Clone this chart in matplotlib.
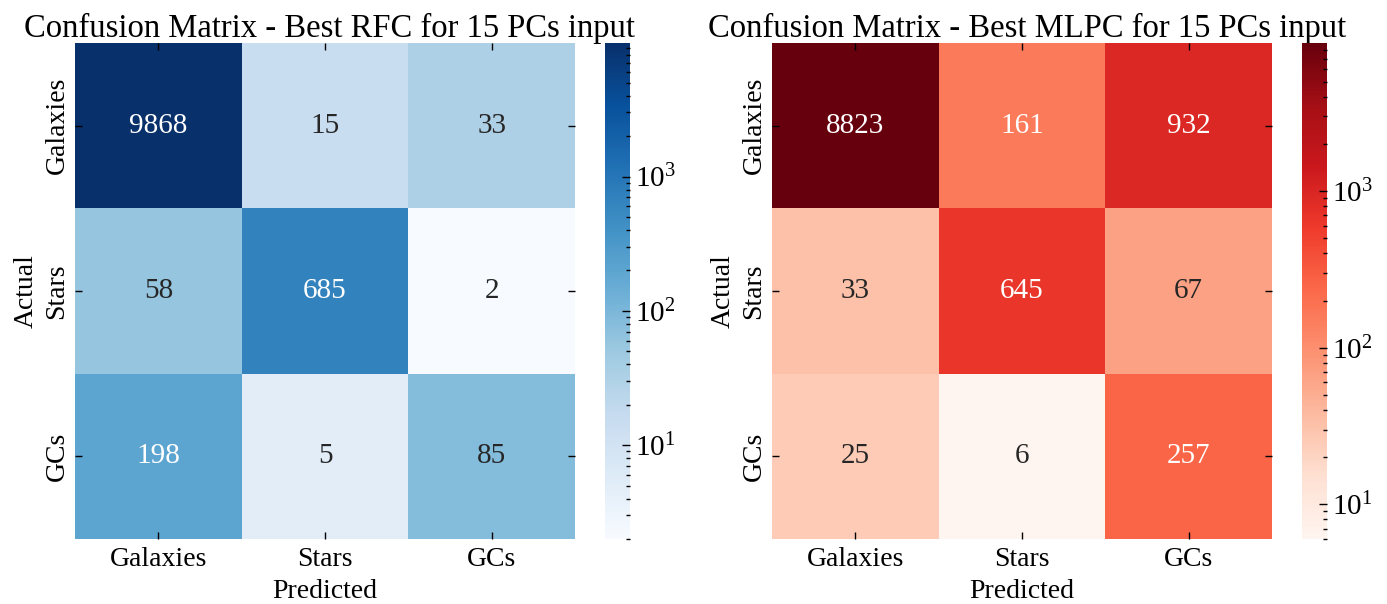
import numpy as np
import matplotlib.pyplot as plt
import seaborn as sns
from matplotlib.colors import LogNorm

plt.rcParams['font.family'] = ['Liberation Serif', 'DejaVu Serif']
plt.rcParams['mathtext.fontset'] = 'stix'

classes = ["Galaxies", "Stars", "GCs"]

# rows = actual, cols = predicted
cm_rfc = np.array([
    [9868, 15, 33],
    [58, 685, 2],
    [198, 5, 85],
])

cm_mlpc = np.array([
    [8823, 161, 932],
    [33, 645, 67],
    [25, 6, 257],
])

models = ["RFC", "MLPC"]
matrices = [cm_rfc, cm_mlpc]
cmaps = ["Blues", "Reds"]

W, H = 1387, 604
fig = plt.figure(figsize=(W / 100, H / 100), dpi=100)

# [left, bottom, width, height] in pixels
ax_boxes = [(75, 65, 500, 496), (772, 65, 500, 496)]
cb_boxes = [(605, 65, 25, 496), (1302, 65, 25, 496)]


def px(box):
    x, y, w, h = box
    return [x / W, y / H, w / W, h / H]


for name, cm, cmap, abox, cbox in zip(models, matrices, cmaps, ax_boxes, cb_boxes):
    ax = fig.add_axes(px(abox))
    cax = fig.add_axes(px(cbox))

    sns.heatmap(
        cm,
        annot=True,
        fmt="d",
        cmap=cmap,
        norm=LogNorm(vmin=cm.min(), vmax=cm.max()),
        xticklabels=classes,
        yticklabels=classes,
        ax=ax,
        cbar_ax=cax,
        annot_kws={"fontsize": 21},
    )

    ax.set_title(f"Confusion Matrix - Best {name} for 15 PCs input",
                 fontsize=23.5, pad=4, x=0.51)
    ax.set_xlabel("Predicted", fontsize=20, labelpad=5)
    ax.set_ylabel("Actual", fontsize=20, labelpad=4)

    ax.tick_params(axis="both", which="major", direction="in", length=5,
                   width=1, top=True, right=True, labelsize=20)
    ax.tick_params(axis="x", pad=6)
    ax.tick_params(axis="y", pad=4)
    plt.setp(ax.get_yticklabels(), rotation=90, va="center")

    cax.tick_params(which="major", direction="in", length=6, width=1,
                    labelsize=21)
    cax.tick_params(which="minor", direction="in", length=3, width=1)

fig.savefig("out.png", dpi=100)
